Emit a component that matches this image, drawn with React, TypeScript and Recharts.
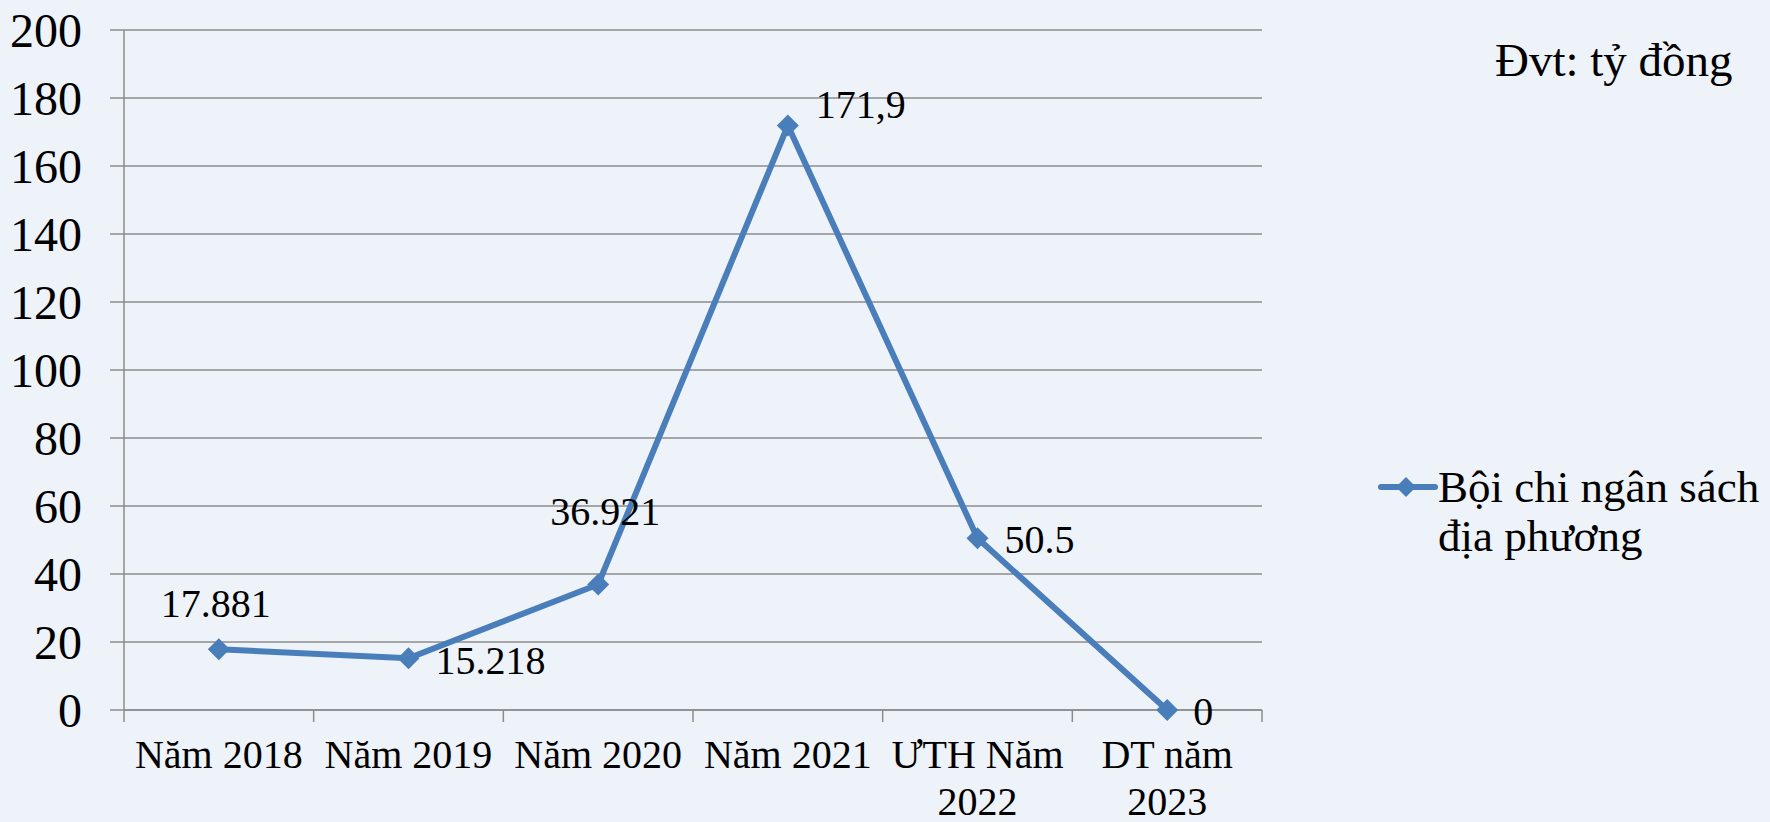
import { LineChart, Line, XAxis, YAxis, CartesianGrid, Legend, LabelList } from 'recharts'

const categories = ['Năm 2018', 'Năm 2019', 'Năm 2020', 'Năm 2021', 'ƯTH Năm 2022', 'DT năm 2023']
const boiChi = [17.881, 15.218, 36.921, 171.9, 50.5, 0]
const boiChiLabels = ['17.881', '15.218', '36.921', '171,9', '50.5', '0']
const yTicks = [0, 20, 40, 60, 80, 100, 120, 140, 160, 180, 200]
const seriesName = 'Bội chi ngân sách địa phương'
const unitNote = 'Đvt: tỷ đồng'

const data = categories.map((name, i) => ({ name, value: boiChi[i], label: boiChiLabels[i] }))

const W = 1770
const H = 822
const PLOT_LEFT = 124
const PLOT_RIGHT = 1262
const BAND = (PLOT_RIGHT - PLOT_LEFT) / categories.length
const FONT = '"Liberation Serif", "Times New Roman", serif'
const BLUE = '#4A7EBB'
const GRID = '#8c8c8c'

// where each data label sits relative to its point (Excel had them hand-placed)
const labelPlace: { anchor: 'middle' | 'start'; dx: number; dy: number }[] = [
  { anchor: 'middle', dx: -3, dy: -32 },
  { anchor: 'start', dx: 27, dy: 16 },
  { anchor: 'middle', dx: 7, dy: -59 },
  { anchor: 'start', dx: 28, dy: -8 },
  { anchor: 'start', dx: 27, dy: 15 },
  { anchor: 'start', dx: 26, dy: 15 },
]

function splitLabel(s: string) {
  if (s.length <= 9) return [s]
  const k = s.lastIndexOf(' ')
  return [s.slice(0, k), s.slice(k + 1)]
}

function CategoryTick(props: any) {
  const { x, y, payload, index } = props
  const lines = splitLabel(String(payload.value))
  return (
    <g>
      <line x1={x - BAND / 2} x2={x - BAND / 2} y1={y} y2={y + 12} stroke={GRID} strokeWidth={1.5} />
      {index === categories.length - 1 && (
        <line x1={x + BAND / 2} x2={x + BAND / 2} y1={y} y2={y + 12} stroke={GRID} strokeWidth={1.5} />
      )}
      <text x={x} y={y + 58} textAnchor="middle" fill="#000" fontSize={40} fontFamily={FONT}>
        {lines.map((l, i) => (
          <tspan key={i} x={x} dy={i === 0 ? 0 : 47}>{l}</tspan>
        ))}
      </text>
    </g>
  )
}

function Diamond(props: any) {
  const { cx, cy, index } = props
  if (cx == null || cy == null) return <g key={index} />
  const r = 11
  return (
    <polygon
      key={index}
      points={`${cx},${cy - r} ${cx + r},${cy} ${cx},${cy + r} ${cx - r},${cy}`}
      fill={BLUE}
    />
  )
}

function PointLabel(props: any) {
  const { x, y, index } = props
  const p = labelPlace[index]
  return (
    <text x={x + p.dx} y={y + p.dy} textAnchor={p.anchor} fill="#000" fontSize={40} fontFamily={FONT}>
      {boiChiLabels[index]}
    </text>
  )
}

function LegendBox() {
  return (
    <div style={{ display: 'flex', alignItems: 'flex-start', fontFamily: FONT, fontSize: 45, lineHeight: '49px', color: '#000' }}>
      <svg width={60} height={40} style={{ flex: 'none', marginTop: 4 }}>
        <line x1={3} x2={57} y1={20} y2={20} stroke={BLUE} strokeWidth={6} strokeLinecap="round" />
        <polygon points="28,10 38,20 28,30 18,20" fill={BLUE} />
      </svg>
      <div style={{ width: 335 }}>{seriesName}</div>
    </div>
  )
}

export default function App() {
  return (
    <div style={{ position: 'absolute', left: 0, top: 0, width: W, height: H, background: '#EEF2F9', overflow: 'hidden' }}>
      <div
        style={{
          position: 'absolute',
          left: 1495,
          top: 37,
          fontFamily: FONT,
          fontSize: 47,
          lineHeight: '47px',
          color: '#000',
          whiteSpace: 'nowrap',
        }}
      >
        {unitNote}
      </div>
      <LineChart width={W} height={H} data={data} margin={{ top: 30, right: W - PLOT_RIGHT, bottom: 0, left: 0 }}>
        <CartesianGrid vertical={false} stroke={GRID} strokeWidth={1.5} />
        <XAxis
          dataKey="name"
          type="category"
          interval={0}
          height={112}
          padding={{ left: BAND / 2, right: BAND / 2 }}
          tickSize={0}
          tickMargin={0}
          tickLine={false}
          axisLine={{ stroke: GRID, strokeWidth: 1.5 }}
          tick={<CategoryTick />}
        />
        <YAxis
          domain={[0, 200]}
          ticks={yTicks}
          width={PLOT_LEFT}
          tickSize={14}
          tickMargin={28}
          axisLine={{ stroke: GRID, strokeWidth: 1.5 }}
          tickLine={{ stroke: GRID, strokeWidth: 1.5 }}
          tick={{ fill: '#000', fontSize: 48, fontFamily: FONT }}
        />
        <Legend
          layout="horizontal"
          verticalAlign="middle"
          align="center"
          content={<LegendBox />}
          wrapperStyle={{ position: 'absolute', left: 1378, top: 463, width: 400, height: 100 }}
        />
        <Line
          type="linear"
          dataKey="value"
          name={seriesName}
          stroke={BLUE}
          strokeWidth={6}
          dot={Diamond}
          activeDot={false}
          isAnimationActive={false}
        >
          <LabelList dataKey="label" content={PointLabel} />
        </Line>
      </LineChart>
    </div>
  )
}
